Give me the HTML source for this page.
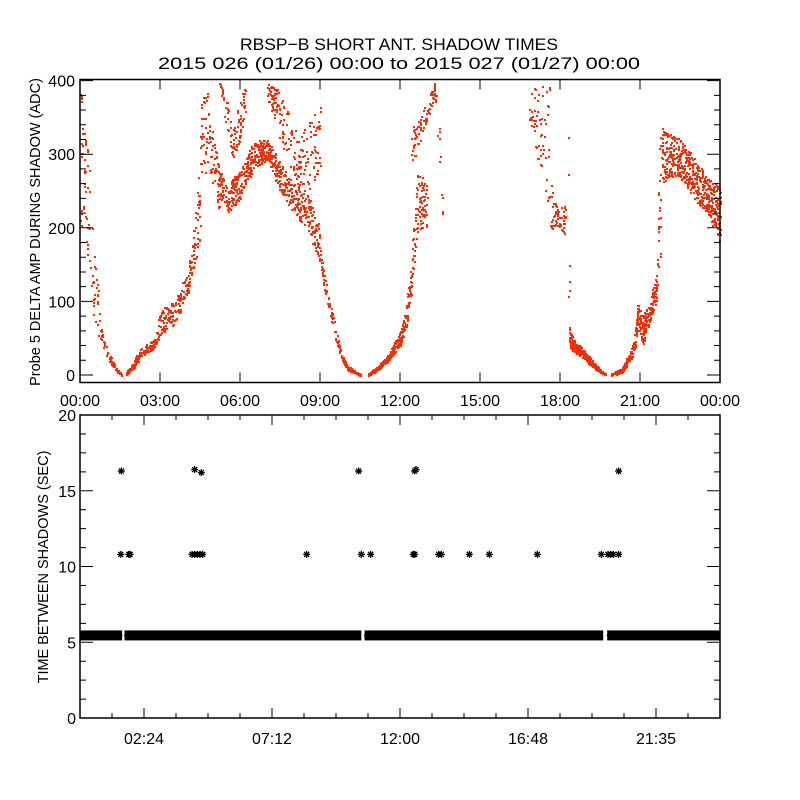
<!DOCTYPE html>
<html><head><meta charset="utf-8"><style>
html,body{margin:0;padding:0;background:#fff;}
svg{display:block;font-family:"Liberation Sans",sans-serif;}
</style></head><body>
<svg id="chart" width="800" height="800" viewBox="0 0 800 800">
<rect x="0" y="0" width="800" height="800" fill="#fff"/>
<text x="399" y="50" text-anchor="middle" font-size="17" textLength="318" lengthAdjust="spacingAndGlyphs">RBSP−B SHORT ANT. SHADOW TIMES</text>
<text x="399" y="69" text-anchor="middle" font-size="17" textLength="482" lengthAdjust="spacingAndGlyphs">2015 026 (01/26) 00:00 to 2015 027 (01/27) 00:00</text>
<g id="topPanel"></g>
<g id="botPanel"></g>
</svg>
<script>
// ---- Top panel data: bands of scatter [hours, low value, high value]
const band1Hours=[0.0,0.3,0.5,0.7,0.85,1.0,1.2,1.4,1.55];
const band1Lo=[200,150,80,50,40,25,12,3,0];
const band1Hi=[400,300,180,100,55,35,20,8,2];
const band2Hours=[1.7,2.0,2.3,2.6,2.8,3.0,3.5,4.0,4.2,4.5];
const band2Lo=[0,10,25,30,40,55,70,100,140,180];
const band2Hi=[3,20,40,45,50,90,100,140,180,300];
const band3Hours=[4.5,4.8,5.1,5.5,6.0,6.5,7.0,7.5,8.0,8.5,9.0];
const band3Lo=[260,280,230,220,240,280,290,250,220,200,150];
const band3Hi=[400,380,300,260,280,320,320,290,260,250,200];
const band4Hours=[5.2,5.5,5.7,6.0,6.2];
const band4Lo=[400,330,290,320,360];
const band4Hi=[400,380,330,380,400];
const band5Hours=[7.0,7.4,7.8,8.2,8.6,9.0];
const band5Lo=[380,330,290,250,250,280];
const band5Hi=[400,390,360,320,350,370];
const band6Hours=[9.0,9.3,9.6,9.8,10.0,10.3,10.5];
const band6Lo=[140,90,45,22,8,2,0];
const band6Hi=[170,110,60,30,14,6,2];
const band7Hours=[10.8,11.2,11.6,12.0,12.2,12.4,12.6,13.0];
const band7Lo=[0,8,22,40,60,100,190,200];
const band7Hi=[2,14,32,60,90,150,280,260];
const band8Hours=[12.4,12.6,13.3,13.5,13.6];
const band8Lo=[290,300,380,250,200];
const band8Hi=[340,340,400,340,240];
const band9Hours=[16.8,16.9,17.6,17.7,18.0,18.2];
const band9Lo=[340,330,200,200,200,190];
const band9Hi=[400,390,400,240,230,230];
const band10Hours=[18.3,18.35,18.5,18.8,19.2,19.5,19.7];
const band10Lo=[60,40,30,25,12,4,0];
const band10Hi=[400,60,50,38,20,8,2];
const band11Hours=[19.9,20.3,20.6,20.8,20.9,21.1,21.4,21.6,21.75];
const band11Lo=[0,4,18,35,70,40,80,100,140];
const band11Hi=[2,10,30,60,100,80,110,140,360];
const band12Hours=[21.8,22.0,22.5,23.0,23.5,24.0];
const band12Lo=[250,270,270,240,220,180];
const band12Hi=[340,330,320,300,270,260];
const bandCounts=[140,330,650,90,180,150,340,90,120,270,390,480];
const topYTicks=[0,100,200,300,400];
const topXLabels=["00:00","03:00","06:00","09:00","12:00","15:00","18:00","21:00","00:00"];
// ---- Bottom panel data
const mainSegStart=[0.0,1.67,10.67,19.77];
const mainSegEnd=[1.58,10.55,19.62,24.0];
const mainValue=[5.45,5.45,5.45,5.45];
const outlierHours=[1.55,4.3,4.55,10.45,12.55,12.6,20.2,1.53,1.83,1.88,4.2,4.3,4.4,4.5,4.6,8.5,10.55,10.9,12.5,12.55,13.45,13.55,14.6,15.35,17.15,19.55,19.8,19.9,20.0,20.2];
const outlierValues=[16.3,16.4,16.2,16.3,16.3,16.4,16.3,10.8,10.8,10.8,10.8,10.8,10.8,10.8,10.8,10.8,10.8,10.8,10.8,10.8,10.8,10.8,10.8,10.8,10.8,10.8,10.8,10.8,10.8,10.8];
const botYTicks=[0,5,10,15,20];
const botXLabels=["02:24","07:12","12:00","16:48","21:35"];

const NS="http://www.w3.org/2000/svg";
function mk(tag,attrs,parent){const e=document.createElementNS(NS,tag);for(const k in attrs)e.setAttribute(k,attrs[k]);parent.appendChild(e);return e;}
const X0=80,X1=720;
const xT=h=>X0+h*(X1-X0)/24;
const yTop=v=>375-0.736*v;
const yBot=v=>718-15.15*v;
const topG=document.getElementById('topPanel'),botG=document.getElementById('botPanel');

function interp(xs,ys,x){if(x<=xs[0])return ys[0];for(let i=1;i<xs.length;i++){if(x<=xs[i]){const t=(x-xs[i-1])/(xs[i]-xs[i-1]);return ys[i-1]+t*(ys[i]-ys[i-1]);}}return ys[ys.length-1];}
function hash(n){let s=Math.sin(n*12.9898+78.233)*43758.5453;return s-Math.floor(s);}
const bands=[[band1Hours,band1Lo,band1Hi],[band2Hours,band2Lo,band2Hi],[band3Hours,band3Lo,band3Hi],[band4Hours,band4Lo,band4Hi],[band5Hours,band5Lo,band5Hi],[band6Hours,band6Lo,band6Hi],[band7Hours,band7Lo,band7Hi],[band8Hours,band8Lo,band8Hi],[band9Hours,band9Lo,band9Hi],[band10Hours,band10Lo,band10Hi],[band11Hours,band11Lo,band11Hi],[band12Hours,band12Lo,band12Hi]];
let d="";let seed=1;
bands.forEach((b,bi)=>{const [hs,lo,hi]=b;const n=bandCounts[bi];const h0=hs[0],h1=hs[hs.length-1];
 for(let i=0;i<n;i++){const h=h0+(h1-h0)*hash(seed++*1.37);const l=interp(hs,lo,h),u=interp(hs,hi,h);const v=l+(u-l)*hash(seed++*2.11);
  const px=Math.round(xT(h)),py=Math.round(yTop(v));if(py<80||py>382)continue;d+="M"+px+" "+py+"h2v2h-2z";}
});
const sc=mk('path',{d:d,fill:'#ff2a00'},topG);



const tf=mk('rect',{x:X0,y:79.5,width:640,height:303,fill:'none',stroke:'#000','stroke-width':1.5},topG);


let tk="";
for(let v=0;v<=400;v+=20){const y=yTop(v);const L=(v%100===0)?13:6;tk+="M"+X0+" "+y+"h"+L+"M"+X1+" "+y+"h-"+L;}
for(let h=0;h<=24;h+=3){const x=xT(h);tk+="M"+x+" 382.5v-10M"+x+" 79.5v10";}
const tt=mk('path',{d:tk,stroke:'#000','stroke-width':1,fill:'none'},topG);


topYTicks.forEach(v=>{const t=mk('text',{x:75,y:yTop(v)+6,'text-anchor':'end','font-size':16},topG);t.textContent=String(v);
 
 });
topXLabels.forEach((s,i)=>{const t=mk('text',{x:xT(i*3),y:406,'text-anchor':'middle','font-size':16},topG);t.textContent=s;
 
 });
const ty=mk('text',{transform:'translate(40,232) rotate(-90)','text-anchor':'middle','font-size':14.5},topG);
ty.textContent="Probe 5 DELTA AMP DURING SHADOW (ADC)";



const bf=mk('rect',{x:X0,y:415,width:640,height:303,fill:'none',stroke:'#000','stroke-width':1.5},botG);


let bk="";
for(let i=0;i<=16;i++){const v=i*1.25;const y=yBot(v);const L=(i%4===0)?13:6;bk+="M"+X0+" "+y+"h"+L+"M"+X1+" "+y+"h-"+L;}
for(let i=0;i<=20;i++){const x=X0+i*32;const L=(i%4===2)?10:5;bk+="M"+x+" 718v-"+L+"M"+x+" 415v"+L;}
const bt=mk('path',{d:bk,stroke:'#000','stroke-width':1,fill:'none'},botG);


botYTicks.forEach(v=>{const t=mk('text',{x:76,y:yBot(v)+6,'text-anchor':'end','font-size':16},botG);t.textContent=String(v);
 
 });
botXLabels.forEach((s,i)=>{const t=mk('text',{x:X0+64+i*128,y:744,'text-anchor':'middle','font-size':16},botG);t.textContent=s;
 
 });
const by=mk('text',{transform:'translate(48,567) rotate(-90)','text-anchor':'middle','font-size':14.5},botG);
by.textContent="TIME BETWEEN SHADOWS (SEC)";



function star(x,y){return "M"+(x-3.5)+" "+y+"h7M"+x+" "+(y-3.5)+"v7M"+(x-2.5)+" "+(y-2.5)+"l5 5M"+(x-2.5)+" "+(y+2.5)+"l5 -5";}
let sd="";
mainSegStart.forEach((s,i)=>{const xa=xT(s),xb=xT(mainSegEnd[i]);const y=yBot(mainValue[i]);
 for(let x=xa+3;x<=xb-3;x+=2)sd+=star(x,y);
 const r=mk('rect',{x:xa,y:y-5,width:xb-xa,height:10,fill:'#000'},botG);
 
 
});
outlierHours.forEach((h,i)=>{sd+=star(xT(h),yBot(outlierValues[i]));});
const st=mk('path',{d:sd,stroke:'#000','stroke-width':1.3,fill:'none'},botG);


</script>
</body></html>
